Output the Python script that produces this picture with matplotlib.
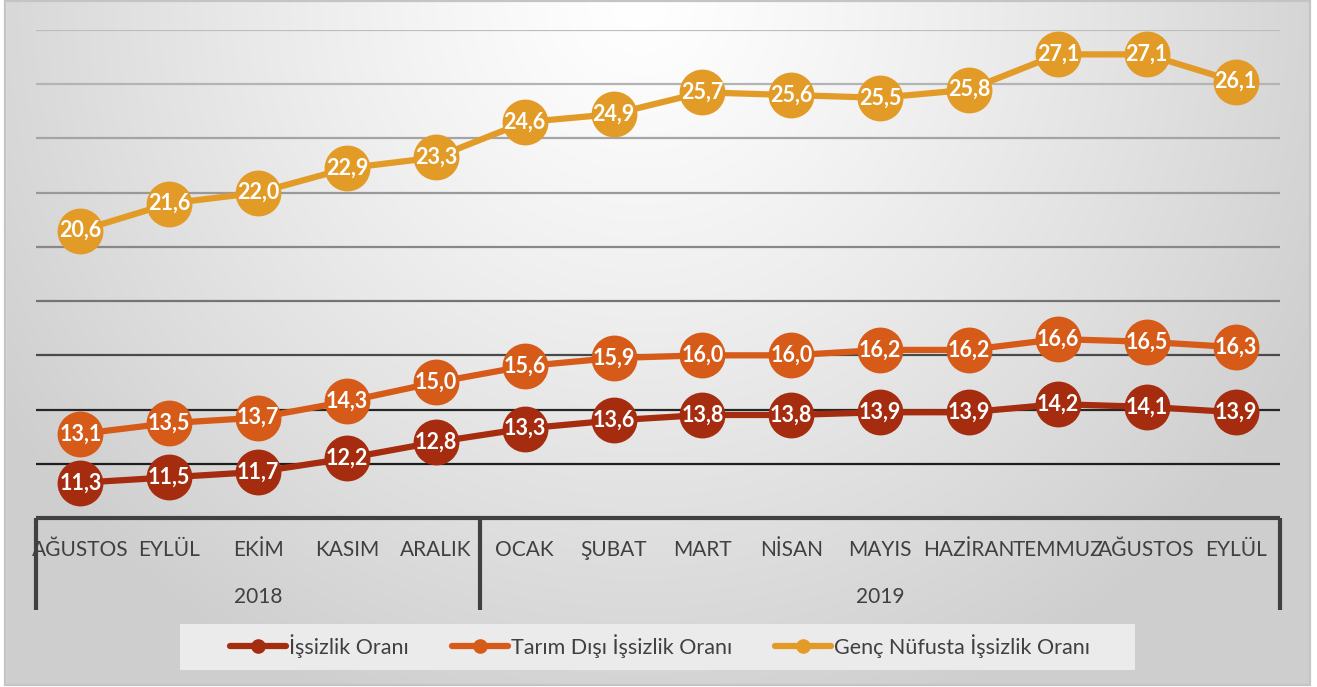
"""Türkiye işsizlik oranları, Ağustos 2018 - Eylül 2019."""

import matplotlib

matplotlib.use("Agg")
import matplotlib.pyplot as plt
import numpy as np
from matplotlib.lines import Line2D
from matplotlib.patches import Rectangle
from matplotlib.transforms import blended_transform_factory

plt.rcParams["font.family"] = ["Lato", "DejaVu Sans"]

months = ["AĞUSTOS", "EYLÜL", "EKİM", "KASIM", "ARALIK",
          "OCAK", "ŞUBAT", "MART", "NİSAN", "MAYIS", "HAZİRAN",
          "TEMMUZ", "AĞUSTOS", "EYLÜL"]
years = ["2018", "2019"]
year_sizes = [5, 9]

issizlik = [11.3, 11.5, 11.7, 12.2, 12.8, 13.3, 13.6, 13.8, 13.8, 13.9, 13.9, 14.2, 14.1, 13.9]
tarim_disi = [13.1, 13.5, 13.7, 14.3, 15.0, 15.6, 15.9, 16.0, 16.0, 16.2, 16.2, 16.6, 16.5, 16.3]
genc = [20.6, 21.6, 22.0, 22.9, 23.3, 24.6, 24.9, 25.7, 25.6, 25.5, 25.8, 27.1, 27.1, 26.1]

series_names = ["İşsizlik Oranı", "Tarım Dışı İşsizlik Oranı", "Genç Nüfusta İşsizlik Oranı"]
series_colors = ["#A52C0F", "#D65A18", "#E39B28"]

W, H = 1317, 687
fig = plt.figure(figsize=(W / 100, H / 100), dpi=100)
fig.patch.set_facecolor("white")

# background: light radial gradient inside a thin grey frame
bg = fig.add_axes([0, 0, 1, 1])
bg.set_axis_off()
yy, xx = np.mgrid[0:H, 0:W]
r = np.sqrt(((xx - 640) / 760.0) ** 2 + (yy / 760.0) ** 2)
shade = 1.0 - 0.19 * np.clip(r, 0, 1.0) ** 1.2
bg.imshow(np.dstack([shade] * 3), extent=[0, W, H, 0], aspect="auto", zorder=0)
bg.add_patch(Rectangle((0, 0), 5, H, color="white", zorder=1))
bg.add_patch(Rectangle((1311, 0), W - 1311, H, color="white", zorder=1))
bg.add_patch(Rectangle((0, 686), W, 2, color="white", zorder=1))
bg.add_patch(Rectangle((5, 1), 1305, 684, fill=False, ec="#c4c4c4", lw=1.6, zorder=2))
bg.set_xlim(0, W)
bg.set_ylim(H, 0)

ax = fig.add_axes([36 / W, (H - 518) / H, 1244 / W, 488 / H])
ax.patch.set_alpha(0)
ax.set_xlim(-0.5, len(months) - 0.5)
ax.set_ylim(10, 28)

grid_colors = {12: "#1e1e1e", 14: "#262626", 16: "#4a4a4a", 18: "#747474",
               20: "#888888", 22: "#999999", 24: "#a4a4a4", 26: "#b4b4b4", 28: "#bdbdbd"}
for val, col in grid_colors.items():
    ax.axhline(val, color=col, lw=1.6, zorder=1)

x = np.arange(len(months))
for vals, name, col in zip([issizlik, tarim_disi, genc], series_names, series_colors):
    ax.plot(x, vals, color=col, lw=4.5, marker="o", ms=32, mec=col, mfc=col,
            label=name, zorder=3, solid_capstyle="round")
    for xi, v in zip(x, vals):
        ax.text(xi, v, f"{v:.1f}".replace(".", ","), ha="center", va="center",
                color="white", fontsize=15.5, fontweight="bold", zorder=4)

for s in ax.spines.values():
    s.set_visible(False)
ax.set_yticks([])
ax.set_xticks([])

# multi-level category axis
tr = blended_transform_factory(ax.transData, ax.transAxes)
ax.plot([-0.5, len(months) - 0.5], [0, 0], transform=tr, color="#404040", lw=3,
        clip_on=False, zorder=5, solid_capstyle="butt")
drop = -92 / 488
bounds = np.concatenate([[0], np.cumsum(year_sizes)]) - 0.5
for b in bounds:
    ax.plot([b, b], [0, drop], transform=tr, color="#404040", lw=3, clip_on=False,
            zorder=5, solid_capstyle="butt")
for xi, m in zip(x, months):
    ax.text(xi, -32 / 488, m, transform=tr, ha="center", va="center",
            fontsize=15, color="#404040")
for i, yl in enumerate(years):
    ax.text((bounds[i] + bounds[i + 1]) / 2, -79 / 488, yl, transform=tr,
            ha="center", va="center", fontsize=15, color="#404040")

# legend
bg.add_patch(Rectangle((180, 624), 955, 46, color="#ebebeb", ec="none", zorder=3))
handles = [Line2D([0], [0], color=c, lw=4.5, marker="o", ms=9.5, mfc=c, mec=c,
                  solid_capstyle="round") for c in series_colors]
fig.legend(handles, series_names, loc="center", bbox_to_anchor=(660 / W, (H - 646) / H),
           ncol=3, frameon=False, fontsize=15.5, labelcolor="#404040",
           handlelength=2.6, handletextpad=0.15, columnspacing=2.0)

fig.savefig("out.png", dpi=100)
